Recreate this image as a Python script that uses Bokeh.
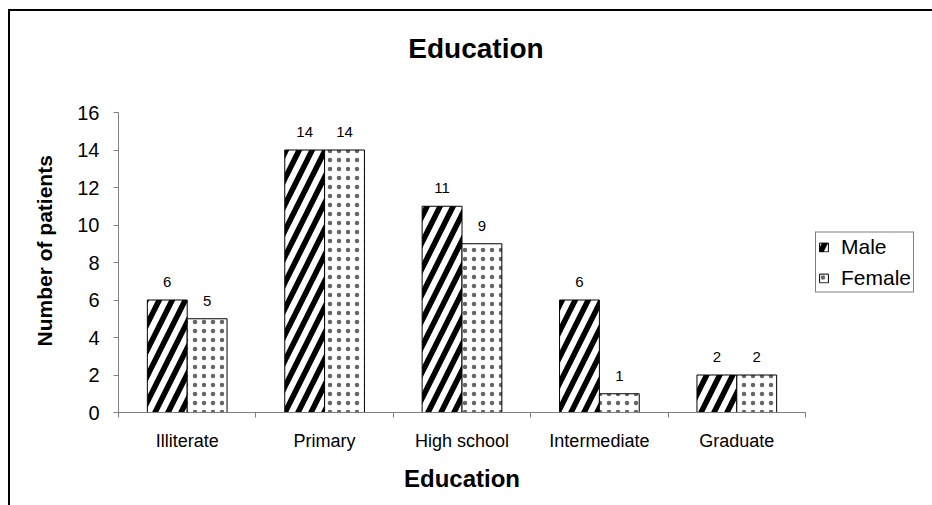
from bokeh.plotting import figure
from bokeh.models import (ColumnDataSource, FixedTicker, Legend, LegendItem, Range1d,
                          LinearAxis)
from bokeh.core.properties import value
from bokeh.embed import file_html
from bokeh.resources import INLINE

categories = ["Illiterate", "Primary", "High school", "Intermediate", "Graduate"]
male = [6, 14, 11, 6, 2]
female = [5, 14, 9, 1, 2]
y_ticks = [0, 2, 4, 6, 8, 10, 12, 14, 16]

FONT = "Liberation Sans"
BW = 0.29
n = len(categories)
centers = [i + 0.5 for i in range(n)]

src_m = ColumnDataSource(dict(x=[c - BW / 2 for c in centers], top=male,
                              lbl=[str(v) for v in male]))
src_f = ColumnDataSource(dict(x=[c + BW / 2 for c in centers], top=female,
                              lbl=[str(v) for v in female]))

# canvas sits inside a bordered box that starts at (8, 9) in the page
OX, OY = 10, 11
p = figure(frame_width=687, frame_height=300, output_backend="svg", toolbar_location=None,
           x_range=Range1d(0, n), y_range=Range1d(0, 16),
           min_border_left=118 - OX, min_border_right=127, min_border_top=112 - OY,
           min_border_bottom=93)
p.styles = {"border-top": "2px solid black", "border-left": "2px solid black",
            "margin-left": "8px", "margin-top": "9px"}
p.title.visible = False
p.outline_line_color = None
p.grid.visible = False
p.background_fill_color = "white"
p.border_fill_color = "white"

xa = p.below[0]
ya = p.left[0]

rm = p.vbar(x="x", top="top", width=BW, bottom=0, source=src_m,
            fill_color="white", line_color="black", line_width=1,
            hatch_pattern="/", hatch_color="black", hatch_weight=5.5, hatch_scale=26)
rf = p.vbar(x="x", top="top", width=BW, bottom=0, source=src_f,
            fill_color="white", line_color="black", line_width=1,
            hatch_pattern=".", hatch_color="black", hatch_alpha=0.6, hatch_scale=9)

for src in (src_m, src_f):
    p.text(x="x", y="top", text="lbl", source=src, text_align="center",
           text_baseline="bottom", y_offset=-13, text_font=value(FONT),
           text_font_size="15px", text_color="black")

# chart title as a label-only axis above the frame
top_axis = LinearAxis(ticker=FixedTicker(ticks=[]), axis_line_color=None,
                      major_tick_line_color=None, minor_tick_line_color=None,
                      major_label_text_font_size="0px",
                      axis_label="\u2002\u2002Education", axis_label_text_font=FONT,
                      axis_label_text_font_style="bold", axis_label_text_font_size="28px",
                      axis_label_text_color="black", axis_label_standoff=49)
p.add_layout(top_axis, "above")

# axes
xa.ticker = FixedTicker(ticks=centers, minor_ticks=list(range(n + 1)))
xa.major_label_overrides = {c: categories[i] for i, c in enumerate(centers)}
xa.major_tick_out = 0
xa.major_tick_in = 0
xa.minor_tick_out = 5
xa.minor_tick_in = 0
xa.minor_tick_line_color = "#808080"
xa.axis_line_color = "#808080"
xa.major_label_text_font = FONT
xa.major_label_text_font_size = "18px"
xa.major_label_text_color = "black"
xa.major_label_standoff = 13
xa.axis_label = "Education"
xa.axis_label_text_font = FONT
xa.axis_label_text_font_style = "bold"
xa.axis_label_text_font_size = "24px"
xa.axis_label_text_color = "black"
xa.axis_label_standoff = 11

ya.ticker = FixedTicker(ticks=y_ticks, minor_ticks=[])
ya.major_tick_out = 5
ya.major_tick_in = 0
ya.major_tick_line_color = "#808080"
ya.axis_line_color = "#808080"
ya.major_label_text_font = FONT
ya.major_label_text_font_size = "20px"
ya.major_label_text_color = "black"
ya.major_label_standoff = 14
ya.axis_label = "\u00a0\u00a0\u00a0\u00a0Number of patients"
ya.axis_label_text_font = FONT
ya.axis_label_text_font_style = "bold"
ya.axis_label_text_font_size = "21px"
ya.axis_label_text_color = "black"
ya.axis_label_standoff = 18

legend = Legend(items=[LegendItem(label="Male", renderers=[rm]),
                       LegendItem(label="Female", renderers=[rf])],
                location="center_left", label_text_font=FONT,
                label_text_font_size="21px", label_text_color="black",
                glyph_width=11, glyph_height=11,
                label_height=20, border_line_color="black", border_line_width=1,
                background_fill_color="white", padding=2, spacing=7,
                label_standoff=12, margin=10)
p.add_layout(legend, "right")

open("out.html", "w").write(file_html(p, INLINE))
